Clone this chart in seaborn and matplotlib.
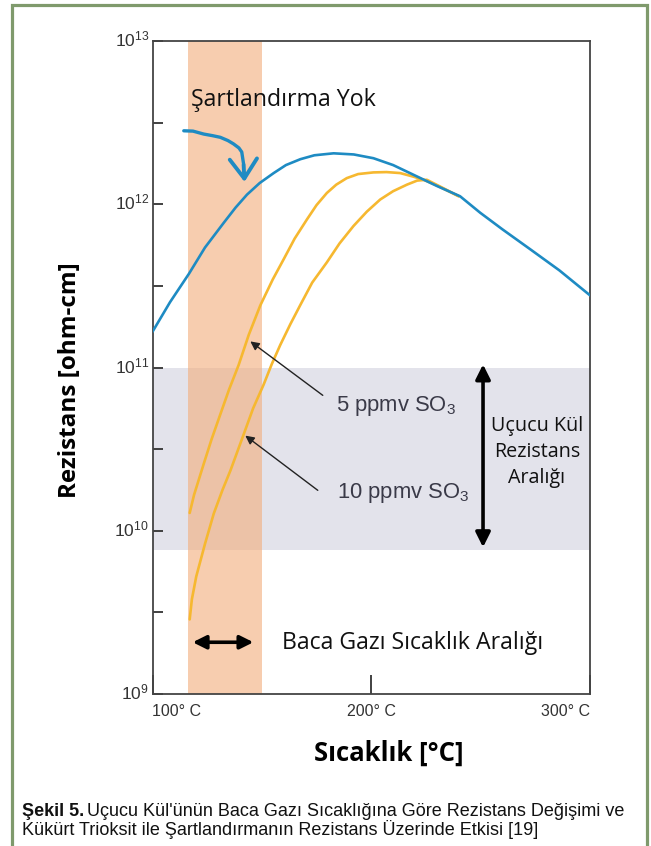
import numpy as np
import pandas as pd
import seaborn as sns
import matplotlib
matplotlib.use("Agg")
import matplotlib.pyplot as plt
from matplotlib.patches import Rectangle
from matplotlib.ticker import NullFormatter
from matplotlib.transforms import ScaledTranslation

# ---------------- data ----------------
blue_temp = [100, 108, 116.6, 124, 132.6, 138, 143.2, 149, 155.4, 161, 167.6, 174, 182.8, 192, 201,
             210, 220.8, 230, 240.6, 249.8, 260, 272.6, 286, 300]
blue_log10 = [11.219, 11.40, 11.573, 11.735, 11.887, 11.98, 12.059, 12.13, 12.191, 12.24, 12.276, 12.30,
              12.312, 12.305, 12.282, 12.24, 12.171, 12.112, 12.049, 11.948, 11.846, 11.725, 11.595, 11.442]

so3_5_temp = [117, 119, 123.4, 127, 131, 135, 139.4, 144, 149.3, 155, 160, 165, 170.6, 175, 179.7,
              184, 188.8, 194, 201, 207, 213.2, 219, 223.9, 230, 240]
so3_5_log10 = [10.109, 10.22, 10.409, 10.56, 10.713, 10.865, 11.016, 11.20, 11.381, 11.54, 11.664, 11.79,
               11.907, 11.995, 12.069, 12.12, 12.160, 12.185, 12.195, 12.197, 12.191, 12.17, 12.150,
               12.115, 12.049]

so3_10_temp = [117, 118, 120, 124, 128, 132, 135.6, 141.7, 146, 150.8, 154.5, 158.4, 163, 167.5, 173,
               179.7, 185.5, 191.9, 198, 204.1, 210, 216.3, 221, 225.4, 232, 240]
so3_10_log10 = [9.457, 9.58, 9.72, 9.92, 10.105, 10.25, 10.368, 10.591, 10.75, 10.895, 11.02, 11.138,
                11.265, 11.381, 11.52, 11.644, 11.76, 11.867, 11.955, 12.029, 12.08, 12.120, 12.145,
                12.150, 12.105, 12.049]

x_ticks = [100, 200, 300]
x_tick_labels = ["100° C", "200° C", "300° C"]
y_major_exp = [9, 10, 11, 12, 13]
y_minor_exp = [9.5, 10.5, 11.5, 12.5]

flue_gas_range = [116, 150]          # °C  (orange band)
ash_range_log10 = [9.882, 11.0]      # gray band

# ---------------- styling ----------------
sns.set_theme(style="white")
plt.rcParams["font.family"] = ["Open Sans", "DejaVu Sans"]
plt.rcParams["mathtext.fontset"] = "custom"
plt.rcParams["mathtext.rm"] = "Liberation Sans"

W, H = 651, 846
fig = plt.figure(figsize=(W / 100, H / 100), dpi=100)
fig.patch.set_facecolor("white")

L, R, T, B = 152.5, 590, 41, 694
ax = fig.add_axes([L / W, 1 - B / H, (R - L) / W, (B - T) / H])

def fx(x):
    return x / W

def fy(y):
    return 1 - y / H

BLUE = "#1e8bc3"
YEL = "#f6b830"

# bands
ax.axhspan(10 ** ash_range_log10[0], 10 ** ash_range_log10[1], color="#e3e3eb", zorder=0, lw=0)
ax.axvspan(flue_gas_range[0], flue_gas_range[1], color="#f3ac7b", alpha=0.6, zorder=1, lw=0)

df_b = pd.DataFrame({"T": blue_temp, "R": 10 ** np.array(blue_log10)})
df_5 = pd.DataFrame({"T": so3_5_temp, "R": 10 ** np.array(so3_5_log10)})
df_10 = pd.DataFrame({"T": so3_10_temp, "R": 10 ** np.array(so3_10_log10)})

sns.lineplot(data=df_5, x="T", y="R", ax=ax, color=YEL, lw=1.9, zorder=3)
sns.lineplot(data=df_10, x="T", y="R", ax=ax, color=YEL, lw=1.9, zorder=3)
sns.lineplot(data=df_b, x="T", y="R", ax=ax, color=BLUE, lw=1.9, zorder=4)
for ln in ax.get_lines():
    ln.set_solid_joinstyle("round")

ax.set_yscale("log")
ax.set_xlim(100, 300)
ax.set_ylim(1e9, 10 ** 12.974)

ax.set_yticks([10.0 ** e for e in y_major_exp])
ax.set_yticklabels([r"$\mathregular{10^{%d}}$" % e for e in y_major_exp])
ax.set_yticks([10.0 ** e for e in y_minor_exp], minor=True)
ax.yaxis.set_minor_formatter(NullFormatter())
ax.set_xticks(x_ticks)
ax.set_xticklabels(x_tick_labels)
for lbl, ha in zip(ax.get_xticklabels(), ["left", "center", "right"]):
    lbl.set_ha(ha)

ax.tick_params(axis="y", which="both", direction="in", length=7.2, width=1.3,
               color="#333333", labelcolor="#333333", labelsize=12.5, pad=2.5, left=True)
ax.tick_params(axis="x", which="both", direction="in", length=14, width=1.3,
               color="#333333", labelcolor="#333333", labelsize=11.5, pad=7, bottom=True)
for lbl in ax.get_yticklabels() + ax.get_xticklabels():
    lbl.set_family("Liberation Sans")
shift = ScaledTranslation(0, 3 / 100, fig.dpi_scale_trans)
for lbl in ax.get_yticklabels():
    lbl.set_transform(lbl.get_transform() + shift)

for s in ax.spines.values():
    s.set_color("#444444")
    s.set_linewidth(1.3)

ax.set_xlabel("Sıcaklık [°C]", fontsize=18.5, fontweight="bold", color="black")
ax.xaxis.set_label_coords((389 - L) / (R - L), (B - 753) / (B - T))
ax.xaxis.label.set_va("center")
ax.set_ylabel("Rezistans [ohm-cm]", fontsize=17.5, fontweight="bold", color="black")
ax.yaxis.set_label_coords((70 - L) / (R - L), (B - 380) / (B - T))
ax.yaxis.label.set_va("center")

# texts
fig.text(fx(190.7), fy(100), "Şartlandırma Yok", fontsize=16.7, ha="left", va="center", color="#111111")
fig.text(fx(282.5), fy(643), "Baca Gazı Sıcaklık Aralığı", fontsize=16.7, ha="left", va="center", color="#111111")
fig.text(fx(537), fy(452), "Uçucu Kül\nRezistans\nAralığı", fontsize=14.2, ha="center", va="center",
         color="#111111", linespacing=1.4)
fig.text(fx(336), fy(406), r"5 ppmv SO$_\mathregular{3}$", fontsize=15.8, ha="left", va="center",
         color="#3a3a48", family="Liberation Sans")
fig.text(fx(337), fy(493), r"10 ppmv SO$_\mathregular{3}$", fontsize=15.8, ha="left", va="center",
         color="#3a3a48", family="Liberation Sans")

# annotation arrows
ax.annotate("", xy=(143.7, 10 ** 11.17), xytext=(fx(325), fy(397)), textcoords="figure fraction",
            arrowprops=dict(arrowstyle="-|>", color="#222222", lw=1.0, mutation_scale=13), zorder=5)
ax.annotate("", xy=(141.4, 10 ** 10.593), xytext=(fx(320), fy(492)), textcoords="figure fraction",
            arrowprops=dict(arrowstyle="-|>", color="#222222", lw=1.0, mutation_scale=13), zorder=5)
ax.annotate("", xy=(251.1, 10 ** 9.882), xytext=(251.1, 10 ** 11.036),
            arrowprops=dict(arrowstyle="<|-|>", color="black", lw=2.6, mutation_scale=22), zorder=5)
ax.annotate("", xy=(117.1, 10 ** 9.317), xytext=(147.4, 10 ** 9.317),
            arrowprops=dict(arrowstyle="<|-|>", color="black", lw=2.6, mutation_scale=20), zorder=5)

# hand-drawn blue arrow
hand_x = [114.3, 118.5, 123.4, 127.5, 131.0, 134.5, 137.0, 139.5, 140.8, 141.6]
hand_y = [12.45, 12.448, 12.43, 12.42, 12.41, 12.39, 12.37, 12.345, 12.32, 12.25]
ax.plot(hand_x, 10 ** np.array(hand_y), color=BLUE, lw=2.4, zorder=5, solid_capstyle="round")
ax.annotate("", xy=(142.1, 10 ** 12.12), xytext=(141.6, 10 ** 12.26),
            arrowprops=dict(arrowstyle="->,head_length=0.5,head_width=0.35", color=BLUE, lw=2.8,
                            mutation_scale=28), zorder=5)

# caption
cap_font = "Liberation Sans"
t1 = fig.text(fx(22), fy(811), "Şekil 5.", fontsize=13, fontweight="bold", ha="left", va="center",
              family=cap_font, color="#111111")
fig.canvas.draw()
bb = t1.get_window_extent()
fig.text(bb.x1 / W + 3 / W, fy(811), "Uçucu Kül'ünün Baca Gazı Sıcaklığına Göre Rezistans Değişimi ve",
         fontsize=13, ha="left", va="center", family=cap_font, color="#111111")
fig.text(fx(22), fy(829), "Kükürt Trioksit ile Şartlandırmanın Rezistans Üzerinde Etkisi [19]",
         fontsize=13, ha="left", va="center", family=cap_font, color="#111111")

# green frame
fig.patches.append(Rectangle((fx(11.5), -0.05), fx(646.5) - fx(11.5), fy(5.5) + 0.05,
                             transform=fig.transFigure, fill=False, edgecolor="#7f9a6c", lw=2.3))

fig.savefig("out.png", dpi=100)
